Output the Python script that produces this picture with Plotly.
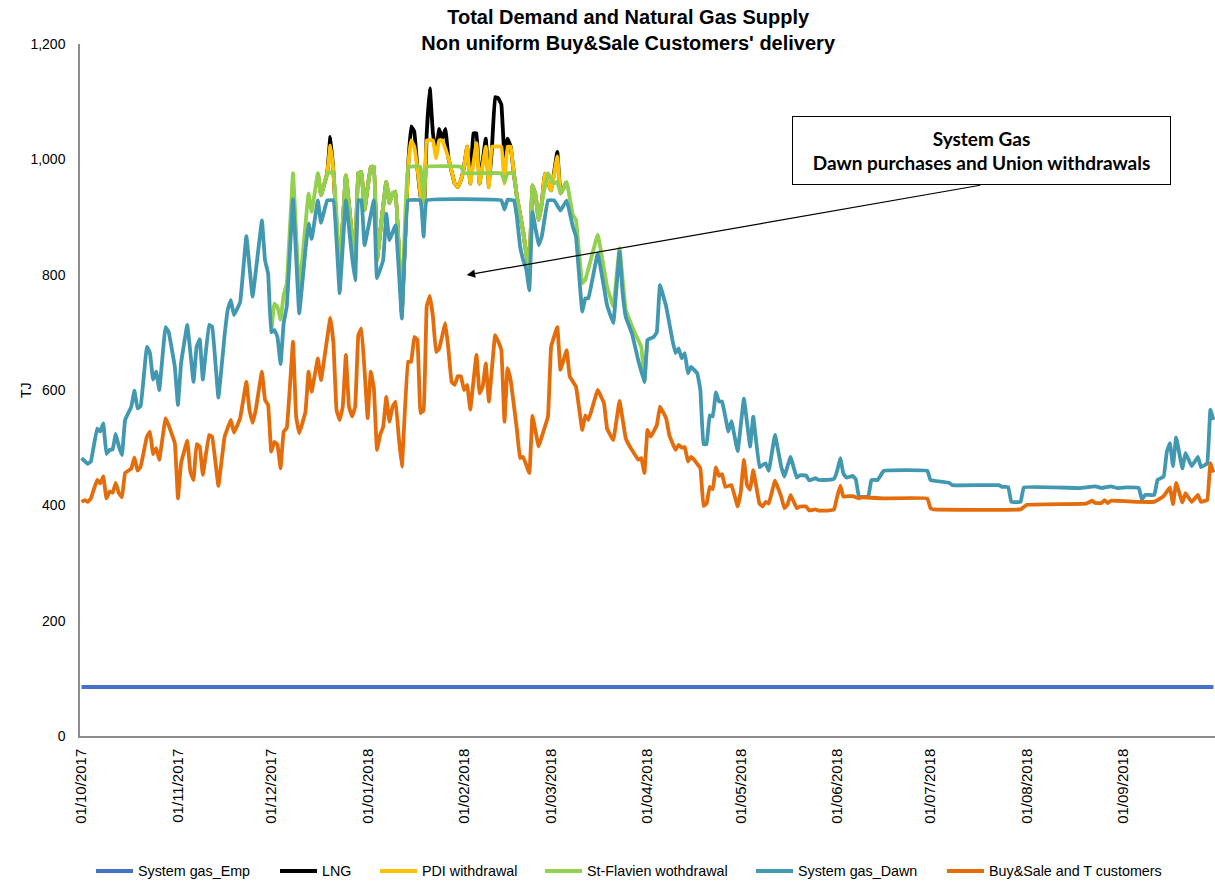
import pandas as pd
import plotly.graph_objects as go

# Daily gas year starting 1 October 2017; each series is given as
# (days since 1 Oct 2017, TJ) pairs at its turning points.
START = pd.Timestamp("2017-10-01")

emp_day = [0, 364]
emp_tj = [85, 85]

lng_day = [76, 77, 79, 80, 81, 83, 85, 87, 88, 89, 90, 91, 93, 94, 95, 96, 98, 99, 100, 101,
           103, 105, 106, 107, 108, 110, 111, 112, 113, 114, 115, 116, 117, 118, 120, 121, 122,
           123, 124, 125, 126, 127, 128, 130, 131, 132, 133, 134, 135, 136, 137, 138, 139, 140,
           141, 142, 143, 144, 145, 146, 147, 148, 149, 151, 153, 154, 156]
lng_tj = [976, 938, 976, 1039, 978, 805, 972, 866, 825, 976, 978, 912, 987, 987, 825, 872, 961, 924, 941, 944,
          733, 987, 1057, 1048, 985, 895, 1045, 1123, 1045, 1010, 1053, 1036, 1053, 1002, 958, 952, 964,
          987, 1022, 958, 1045, 1045, 958, 1036, 952, 1022, 1108, 1106, 1095, 1005, 1036, 1022, 976, 935,
          905, 875, 837, 805, 955, 938, 895, 924, 975, 946, 1013, 941, 961]

pdi_day = [76, 77, 79, 80, 81, 83, 85, 87, 88, 89, 90, 91, 93, 94, 95, 96, 98, 99, 100, 101,
           103, 105, 106, 107, 108, 110, 111, 113, 114, 115, 116, 118, 120, 121, 122, 123, 124,
           125, 127, 128, 130, 131, 132, 135, 136, 137, 138, 139, 140, 141, 142, 143, 144, 145,
           146, 147, 148, 149, 151, 153, 154, 156]
pdi_tj = [976, 938, 976, 1024, 978, 805, 972, 866, 825, 976, 978, 912, 987, 987, 825, 872, 961, 924, 941, 944,
          733, 987, 1033, 1022, 985, 895, 1033, 1033, 1002, 1033, 1033, 1002, 958, 952, 964, 987, 1022,
          958, 1028, 958, 1022, 952, 1022, 1022, 958, 1022, 1022, 976, 935, 905, 875, 837, 805, 955,
          938, 895, 924, 975, 946, 1005, 941, 961]

stf_day = [61, 62, 63, 64, 65, 66, 68, 70, 73, 74, 76, 77, 79, 81, 83, 85, 87, 88, 89, 90, 91, 93,
           94, 95, 96, 98, 99, 100, 101, 103, 105, 109, 110, 111, 122, 123, 135, 136, 137, 139, 140,
           141, 142, 143, 144, 145, 146, 147, 148, 150, 152, 153, 154, 156, 158, 159, 161, 162, 166,
           169, 171, 173, 175, 178, 180, 181, 182]
stf_tj = [700, 750, 744, 722, 765, 785, 976, 773, 941, 909, 976, 938, 975, 978, 805, 972, 866, 825, 976, 978, 912, 987,
          987, 825, 872, 961, 924, 941, 944, 733, 987, 987, 924, 987, 987, 976, 976, 961, 976, 976, 935,
          905, 875, 837, 805, 955, 938, 895, 924, 976, 958, 961, 941, 961, 903, 895, 785, 791, 869,
          779, 745, 846, 739, 698, 675, 614, 687]

dawn_day = [0, 2, 3, 5, 6, 7, 8, 9, 10, 11, 12, 13, 14, 16, 17, 18, 19, 21, 22, 23, 24, 25, 27, 28,
            30, 31, 32, 34, 36, 37, 38, 39, 41, 42, 44, 46, 47, 48, 49, 51, 53, 55, 58, 59, 60, 61,
            62, 63, 64, 65, 66, 68, 70, 72, 73, 74, 76, 77, 79, 81, 83, 85, 87, 88, 89, 90, 91, 94,
            95, 97, 98, 99, 101, 103, 105, 109, 110, 111, 135, 136, 137, 139, 140, 141, 142, 143, 144,
            145, 146, 147, 148, 150, 152, 154, 156, 158, 159, 161, 162, 163, 166, 169, 171, 173, 174,
            175, 177, 179, 181, 182, 184, 185, 186, 188, 190, 191, 192, 193, 194, 195, 196, 198, 199,
            200, 201, 202, 203, 204, 205, 206, 208, 209, 211, 213, 215, 216, 218, 219, 220, 221, 223,
            225, 226, 228, 230, 231, 233, 234, 236, 237, 240, 242, 243, 244, 245, 246, 248, 249, 250,
            253, 254, 256, 258, 272, 273, 279, 280, 295, 296, 298, 299, 302, 303, 321, 326, 328, 331,
            333, 336, 340, 341, 342, 345, 346, 348, 349, 350, 351, 352, 354, 355, 357, 359, 360, 362,
            363, 364]
dawn_tj = [482, 472, 476, 533, 528, 542, 489, 496, 497, 524, 502, 487, 548, 571, 599, 568, 572, 675, 664, 618, 632, 600, 709, 701,
           640, 574, 646, 713, 614, 675, 688, 618, 713, 710, 587, 695, 739, 756, 730, 752, 867, 762, 894, 825, 802, 700,
           704, 692, 645, 716, 745, 931, 733, 843, 889, 862, 929, 890, 929, 929, 768, 929, 830, 790, 929, 929, 851, 929,
           794, 825, 906, 860, 886, 724, 929, 929, 866, 929, 929, 913, 930, 929, 900, 850, 826, 810, 773,
           909, 880, 851, 866, 929, 929, 911, 929, 883, 866, 736, 759, 759, 837, 747, 716, 840, 768,
           727, 698, 652, 614, 687, 692, 700, 782, 745, 687, 664, 672, 655, 664, 629, 640, 629, 600,
           506, 506, 556, 554, 596, 580, 580, 528, 546, 494, 585, 502, 554, 466, 470, 473, 460, 522,
           467, 450, 484, 448, 452, 452, 443, 447, 444, 444, 446, 460, 482, 455, 448, 451, 445, 415,
           415, 444, 444, 460, 460, 444, 439, 435, 435, 432, 432, 406, 406, 431, 430, 433, 430, 433,
           430, 431, 430, 410, 418, 418, 444, 450, 493, 508, 468, 518, 464, 491, 468, 484, 466, 473,
           566, 548]

bst_day = [0, 1, 2, 3, 5, 6, 7, 8, 9, 10, 11, 12, 13, 14, 16, 17, 18, 19, 21, 22, 23, 24, 25, 27,
           28, 30, 31, 32, 34, 35, 36, 37, 38, 39, 41, 42, 44, 46, 48, 49, 51, 53, 54, 55, 56, 58,
           59, 60, 61, 62, 63, 64, 65, 66, 68, 69, 70, 72, 73, 74, 76, 77, 80, 81, 82, 83, 84, 85,
           86, 87, 88, 89, 90, 91, 92, 93, 94, 95, 96, 97, 98, 99, 100, 101, 102, 103, 105, 106,
           107, 108, 109, 110, 111, 112, 113, 114, 115, 117, 118, 119, 120, 121, 122, 123, 124, 125,
           127, 128, 129, 130, 131, 133, 134, 135, 136, 137, 138, 140, 141, 142, 144, 145, 147, 148,
           150, 151, 153, 154, 156, 157, 159, 161, 162, 163, 166, 168, 169, 171, 173, 175, 176, 177,
           179, 180, 181, 182, 183, 185, 186, 188, 189, 191, 192, 193, 194, 195, 196, 197, 199, 200,
           201, 202, 203, 204, 205, 206, 207, 209, 211, 212, 213, 214, 215, 216, 218, 219, 220, 221,
           223, 225, 226, 227, 228, 230, 231, 233, 234, 236, 237, 240, 242, 243, 244, 245, 247, 248,
           250, 251, 258, 272, 273, 274, 302, 304, 323, 325, 326, 328, 329, 330, 331, 340, 345, 346,
           348, 350, 351, 352, 354, 355, 357, 359, 360, 362, 363, 364]
bst_tj = [406, 409, 406, 412, 444, 438, 450, 412, 424, 422, 439, 421, 414, 456, 464, 483, 460, 467, 519, 528, 489, 499, 479, 551,
          539, 508, 412, 473, 512, 458, 444, 506, 502, 453, 522, 519, 434, 519, 548, 526, 551, 614, 565, 543, 565, 632,
          583, 574, 493, 510, 505, 464, 528, 534, 684, 554, 525, 562, 632, 597, 655, 617, 725, 681, 565, 548, 571, 661,
          571, 554, 571, 695, 707, 635, 551, 632, 603, 496, 522, 536, 588, 545, 571, 580, 519, 467, 649, 649,
          692, 687, 560, 565, 745, 763, 727, 666, 672, 716, 669, 614, 609, 624, 624, 600, 609, 566,
          661, 594, 606, 646, 580, 695, 684, 669, 545, 638, 617, 531, 482, 484, 456, 555, 502, 519,
          554, 675, 709, 635, 669, 623, 606, 531, 556, 548, 600, 577, 533, 513, 581, 516, 505, 496,
          479, 482, 456, 531, 519, 539, 571, 551, 522, 496, 505, 500, 501, 476, 484, 479, 464, 399,
          403, 432, 428, 466, 451, 454, 432, 435, 398, 424, 479, 435, 427, 461, 403, 398, 406, 403,
          443, 415, 395, 401, 418, 395, 398, 398, 391, 393, 391, 391, 393, 415, 434, 415, 416, 416,
          412, 414, 412, 412, 395, 393, 393, 401, 403, 408, 404, 404, 409, 404, 408, 406, 406, 409,
          416, 431, 402, 439, 405, 421, 406, 418, 406, 409, 473, 457]


def to_dates(days):
    return START + pd.to_timedelta(days, unit="D")


series = [
    ("System gas_Emp", emp_day, emp_tj, "#4472C4"),
    ("LNG", lng_day, lng_tj, "#000000"),
    ("PDI withdrawal", pdi_day, pdi_tj, "#FFC000"),
    ("St-Flavien wothdrawal", stf_day, stf_tj, "#92D050"),
    ("System gas_Dawn", dawn_day, dawn_tj, "#4298B0"),
    ("Buy&Sale and T customers", bst_day, bst_tj, "#E46C0A"),
]

FONT = "Liberation Sans, Arial, sans-serif"
W, H = 1215, 882
ML, MR, MT, MB = 80, 0, 44, 146
PW, PH = W - ML - MR, H - MT - MB


def px_x(px):
    # page pixel column -> paper fraction
    return (px - ML) / PW


def px_y(py):
    # page pixel row -> paper fraction
    return (H - MB - py) / PH


fig = go.Figure()
for name, days, vals, color in series:
    fig.add_trace(go.Scatter(
        x=to_dates(days), y=vals, name=name, mode="lines",
        line=dict(color=color, width=3.8, shape="spline", smoothing=0.2),
        showlegend=False,
    ))

# Legend row under the axis: key line + label for each series
legend_key_left = [96, 280, 380, 545, 756, 947]
legend_row = 871
for (name, _, _, color), left in zip(series, legend_key_left):
    fig.add_shape(
        type="line", xref="paper", yref="paper",
        x0=px_x(left), x1=px_x(left + 37), y0=px_y(legend_row), y1=px_y(legend_row),
        line=dict(color=color, width=4),
    )
    fig.add_annotation(
        xref="paper", yref="paper", x=px_x(left + 40), y=px_y(legend_row),
        xanchor="left", yanchor="middle", text=name, showarrow=False,
        font=dict(family=FONT, size=14.3, color="#000000"),
    )

fig.update_layout(
    width=W, height=H, autosize=False,
    margin=dict(l=ML, r=MR, t=MT, b=MB),
    paper_bgcolor="white", plot_bgcolor="white",
    font=dict(family=FONT, size=14, color="#000000"),
    showlegend=False,
    title=dict(
        text="<b>Total Demand and Natural Gas Supply</b><br><b>Non uniform Buy&Sale Customers' delivery</b>",
        x=0.517, xanchor="center", xref="container",
        y=0.973, yanchor="top", yref="container",
        font=dict(family=FONT, size=20, color="#000000"),
    ),
)

fig.update_xaxes(
    type="date",
    range=["2017-09-30 12:00", "2018-09-30 12:00"],
    tick0="2017-10-01", dtick="M1", tickformat="%d/%m/%Y", tickangle=-90,
    showline=True, linecolor="#8C8C8C", linewidth=1.5,
    showgrid=False, zeroline=False, ticks="", automargin=False,
    ticklabelstandoff=5,
    tickfont=dict(family=FONT, size=15, color="#000000"),
)
fig.update_yaxes(
    range=[0, 1200], dtick=200, tickformat=",",
    showline=True, linecolor="#8C8C8C", linewidth=1.5,
    showgrid=False, zeroline=False, ticks="", automargin=False,
    ticklabelstandoff=10,
    tickfont=dict(family=FONT, size=14, color="#000000"),
)

# y-axis unit
fig.add_annotation(
    xref="paper", yref="paper", x=px_x(16), y=px_y(390), text="TJ", textangle=-90,
    showarrow=False, font=dict(family=FONT, size=14, color="#000000"),
)

# callout box and its pointer
fig.add_annotation(
    xref="paper", yref="paper", x=px_x(981.5), y=px_y(150.5), xanchor="center", yanchor="middle",
    text="<b>System Gas</b><br><b>Dawn purchases and Union withdrawals</b>",
    showarrow=False, align="center",
    font=dict(family="Lato, Liberation Sans, sans-serif", size=19, color="#000000"),
    bordercolor="#000000", borderwidth=1, borderpad=0, bgcolor="white",
    width=377, height=67,
)
fig.add_annotation(
    xref="paper", yref="paper", x=px_x(466.7), y=px_y(275),
    axref="pixel", ayref="pixel", ax=515, ay=-90,
    text="", showarrow=True, arrowhead=2, arrowsize=1.4, arrowwidth=1.2,
    arrowcolor="#000000", standoff=0, startstandoff=0,
)

fig.write_html("out.html")
